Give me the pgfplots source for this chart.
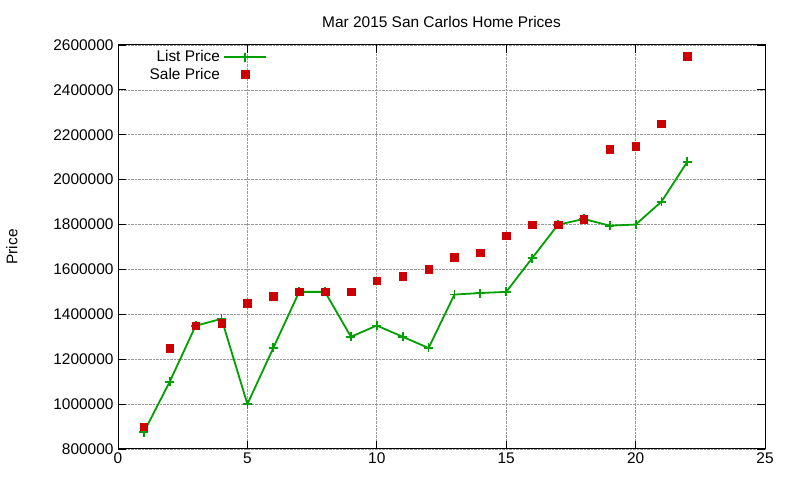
\documentclass[border=0pt]{standalone}
\usepackage{fontspec}
\setmainfont{Liberation Sans}
\usepackage{pgfplots}
\pgfplotsset{compat=1.18}
\definecolor{gpgreen}{RGB}{0,160,0}
\definecolor{gpred}{RGB}{204,0,0}
\begin{document}
\begin{tikzpicture}[x=1bp,y=1bp]
\useasboundingbox (0,0) rectangle (800,480);
\begin{axis}[
    at={(118bp,31bp)}, anchor=south west,
    scale only axis,
    width=647bp, height=404bp,
    xmin=0, xmax=25, ymin=800000, ymax=2600000,
    xtick={0,5,...,25},
    ytick={800000,1000000,...,2600000},
    scaled y ticks=false,
    /pgf/number format/fixed,
    /pgf/number format/1000 sep={},
    /pgf/number format/assume math mode=true,
    tick align=inside,
    major tick length=8bp,
    tick style={black, line width=0.8bp},
    axis line style={line width=1bp},
    grid=major,
    grid style={densely dotted, gray!80, line width=0.7bp},
    font=\fontsize{15.5}{17}\selectfont,
    yticklabel style={xshift=-1bp},
    xticklabel style={yshift=0bp},
    ylabel={Price},
    ylabel style={at={(axis description cs:-0.164,0.5)}, anchor=center},
    title={Mar 2015 San Carlos Home Prices},
    title style={at={(axis description cs:0.5,1)}, yshift=17bp, anchor=center},
    legend style={draw=none, fill=none, inner sep=0pt, at={(axis description cs:0.2303,0.99)}, anchor=north east,
        font=\fontsize{15.5}{16}\selectfont, row sep=1.5bp,
        nodes={inner ysep=1.5bp, inner xsep=3bp},
        legend cell align=right},
    legend plot pos=right,
    legend image code/.code={\draw[mark repeat=2,mark phase=2,#1] plot coordinates {(0bp,0bp) (21bp,0bp) (42bp,0bp)};},
]
\addplot[gpgreen, line width=1.8bp, mark=+, mark size=4.5bp, mark options={line width=1.8bp}] coordinates {
(1,875000) (2,1100000) (3,1349000) (4,1380000) (5,1000000) (6,1250000)
(7,1500000) (8,1500000) (9,1300000) (10,1350000) (11,1300000) (12,1250000)
(13,1488000) (14,1495000) (15,1500000) (16,1650000) (17,1799000) (18,1825000)
(19,1795000) (20,1800000) (21,1902000) (22,2080000)
};
\addlegendentry{List Price}
\addplot[only marks, mark=square*, gpred, mark size=3.8bp] coordinates {
(1,900000) (2,1250000) (3,1350000) (4,1360000) (5,1450000) (6,1480000)
(7,1500000) (8,1500000) (9,1500000) (10,1550000) (11,1570000) (12,1600000)
(13,1655000) (14,1675000) (15,1750000) (16,1800000) (17,1800000) (18,1825000)
(19,2135000) (20,2150000) (21,2250000) (22,2550000)
};
\addlegendentry{Sale Price}
\end{axis}
\end{tikzpicture}
\end{document}
